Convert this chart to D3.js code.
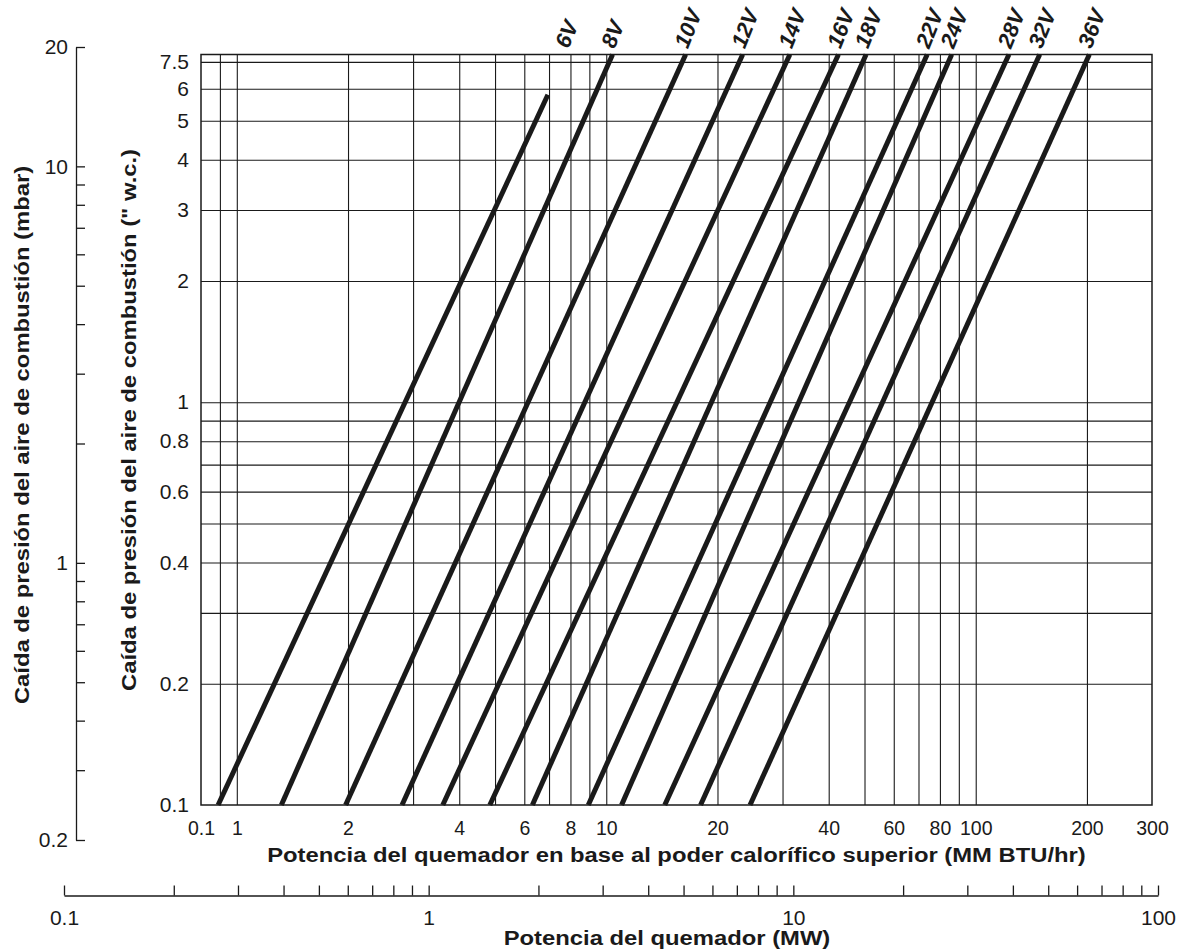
<!DOCTYPE html>
<html>
<head>
<meta charset="utf-8">
<script src="https://cdn.jsdelivr.net/npm/d3@7"></script>
<style>
  body { margin: 0; background: #fff; }
  text { font-family: "Liberation Sans", Arial, Helvetica, sans-serif; fill: #1a1a1a; }
</style>
</head>
<body>
<div id="chart"></div>
<script>
// ---- data ----
// burner capacity (MM BTU/hr) vs pressure drop (" w.c.), one line per size
var lineLabels = ["6V","8V","10V","12V","14V","16V","18V","22V","24V","28V","32V","36V"];
var powerLow   = [0.89, 1.32, 1.97, 2.80, 3.61, 4.84, 6.31, 8.94, 11.0, 14.4, 18.0, 24.5];
var dropLow    = [0.1, 0.1, 0.1, 0.1, 0.1, 0.1, 0.1, 0.1, 0.1, 0.1, 0.1, 0.1];
var powerHigh  = [6.95, 10.4, 16.4, 23.4, 31.4, 42.5, 50.5, 73.9, 86.1, 123, 149, 203];
var dropHigh   = [5.8, 7.3, 7.3, 7.3, 7.3, 7.3, 7.3, 7.3, 7.3, 7.3, 7.3, 7.3];

// bottom axis (MM BTU/hr)
var xTickValues = [0.8, 1, 2, 4, 6, 8, 10, 20, 40, 60, 80, 100, 200, 300];
var xTickLabels = ["0.1","1","2","4","6","8","10","20","40","60","80","100","200","300"];
var xGridValues = [0.9, 1, 2, 3, 4, 5, 6, 7, 8, 9, 10, 20, 30, 40, 50, 60, 70, 80, 90, 100, 200];

// left axis (" w.c.)
var yTickValues = [0.1, 0.2, 0.4, 0.6, 0.8, 1, 2, 3, 4, 5, 6, 7];
var yTickLabels = ["0.1","0.2","0.4","0.6","0.8","1","2","3","4","5","6","7.5"];
var yGridValues = [0.2, 0.3, 0.4, 0.5, 0.6, 0.7, 0.8, 0.9, 1, 2, 3, 4, 5, 6, 7];

// outer axis (mbar)
var mbarMajor = [0.2, 1, 10, 20];
var mbarMinor = [0.3, 0.4, 0.5, 0.6, 0.7, 0.8, 0.9, 2, 3, 4, 5, 6, 7, 8, 9];

// MW axis
var mwMajor = [0.1, 1, 10, 100];
var mwMinor = [0.2,0.3,0.4,0.5,0.6,0.7,0.8,0.9, 2,3,4,5,6,7,8,9, 20,30,40,50,60,70,80,90];

// ---- size ----
var svgWidth = 1192;
var svgHeight = 951;

var plot = { left: 201, right: 1152, top: 54.5, bottom: 805 };

var svg = d3.select("#chart")
    .append("svg")
    .attr("width", svgWidth)
    .attr("height", svgHeight);

// scales
var x = d3.scaleLog().domain([0.8, 300]).range([plot.left, plot.right]);
var y = d3.scaleLog().domain([0.1, 7.3]).range([plot.bottom, plot.top]);
var yMbar = d3.scaleLog().domain([0.2, 20]).range([840, 47]);
var xMW = d3.scaleLog().domain([0.1, 100]).range([64, 1158]);

var ink = "#1a1a1a";

//stretch wide text like the original lettering
function stretch(sel, k) {
    sel.each(function() {
        var w = this.getComputedTextLength();
        d3.select(this)
            .attr("textLength", w * k)
            .attr("lengthAdjust", "spacingAndGlyphs");
    });
}

// ---- grid ----
var xGrid = svg.append("g")
    .attr("transform", `translate(0,${plot.bottom})`)
    .call(d3.axisBottom(x).tickValues(xGridValues).tickFormat("")
        .tickSize(-(plot.bottom - plot.top)).tickSizeOuter(0));
xGrid.select(".domain").remove();
xGrid.selectAll("line").attr("stroke", ink).attr("stroke-width", 1.1);

var yGrid = svg.append("g")
    .attr("transform", `translate(${plot.left},0)`)
    .call(d3.axisLeft(y).tickValues(yGridValues).tickFormat("")
        .tickSize(-(plot.right - plot.left)).tickSizeOuter(0));
yGrid.select(".domain").remove();
yGrid.selectAll("line").attr("stroke", ink).attr("stroke-width", 1.1);

svg.append("rect")
    .attr("x", plot.left)
    .attr("y", plot.top)
    .attr("width", plot.right - plot.left)
    .attr("height", plot.bottom - plot.top)
    .attr("fill", "none")
    .attr("stroke", ink)
    .attr("stroke-width", 1.5);

// ---- tick labels ----
var xAxis = svg.append("g")
    .attr("transform", `translate(0,${plot.bottom})`)
    .call(d3.axisBottom(x).tickValues(xTickValues)
        .tickFormat((d, i) => xTickLabels[i]).tickSize(0).tickPadding(16));
xAxis.select(".domain").remove();
xAxis.selectAll("text")
    .attr("font-size", "19.5px")
    .attr("font-family", "Liberation Sans, Arial, sans-serif")
    .attr("fill", ink);

var yAxis = svg.append("g")
    .attr("transform", `translate(${plot.left},0)`)
    .call(d3.axisLeft(y).tickValues(yTickValues)
        .tickFormat((d, i) => yTickLabels[i]).tickSize(0).tickPadding(12));
yAxis.select(".domain").remove();
yAxis.selectAll("text")
    .attr("font-size", "21px")
    .attr("font-family", "Liberation Sans, Arial, sans-serif")
    .attr("fill", ink);

// ---- mbar axis ----
var mbarAxis = svg.append("g")
    .attr("transform", "translate(76,0)")
    .call(d3.axisLeft(yMbar).tickValues(mbarMajor.concat(mbarMinor))
        .tickFormat(d => mbarMajor.indexOf(d) >= 0 ? d3.format("~g")(d) : "")
        .tickSize(-9).tickSizeOuter(0).tickPadding(8));
mbarAxis.select(".domain").attr("stroke", ink).attr("stroke-width", 1.3);
mbarAxis.selectAll("line").attr("stroke", ink).attr("stroke-width", 1.3);
mbarAxis.selectAll("text")
    .attr("font-size", "21px")
    .attr("font-family", "Liberation Sans, Arial, sans-serif")
    .attr("fill", ink);

// ---- MW axis ----
var mwAxis = svg.append("g")
    .attr("transform", "translate(0,895.5)")
    .call(d3.axisBottom(xMW).tickValues(mwMajor.concat(mwMinor))
        .tickFormat(d => mwMajor.indexOf(d) >= 0 ? d3.format("~g")(d) : "")
        .tickSize(-10).tickSizeOuter(0).tickPadding(15));
mwAxis.select(".domain").attr("stroke", ink).attr("stroke-width", 1.3);
mwAxis.selectAll("line").attr("stroke", ink).attr("stroke-width", 1.3);
mwAxis.selectAll("text")
    .attr("font-size", "21px")
    .attr("font-family", "Liberation Sans, Arial, sans-serif")
    .attr("fill", ink);

// ---- capacity lines ----
var lines = lineLabels.map(function(name, i) {
    return {
        name: name,
        pts: [[powerLow[i], dropLow[i]], [powerHigh[i], dropHigh[i]]]
    };
});

var lineGen = d3.line()
    .x(d => x(d[0]))
    .y(d => y(d[1]));

svg.append("g")
    .selectAll("path")
    .data(lines)
    .enter()
    .append("path")
    .attr("d", d => lineGen(d.pts))
    .attr("fill", "none")
    .attr("stroke", ink)
    .attr("stroke-width", 5);

//label sits where the line would meet the top of the grid
function topPower(d) {
    var a = d.pts[0], b = d.pts[1];
    var top = y.domain()[1];
    var t = Math.log(top / a[1]) / Math.log(b[1] / a[1]);
    return Math.exp(Math.log(a[0]) + t * Math.log(b[0] / a[0]));
}

svg.append("g")
    .selectAll("text")
    .data(lines)
    .enter()
    .append("text")
    .attr("transform", d => `translate(${x(topPower(d)) + 2},${plot.top - 5}) rotate(-68)`)
    .attr("font-size", "22px")
    .attr("font-weight", "bold")
    .attr("font-style", "italic")
    .text(d => d.name);

// ---- axis titles ----
var xTitle = svg.append("text")
    .attr("x", (plot.left + plot.right) / 2)
    .attr("y", 862)
    .attr("text-anchor", "middle")
    .attr("font-size", "20px")
    .attr("font-weight", "bold")
    .text("Potencia del quemador en base al poder calorífico superior (MM BTU/hr)");
stretch(xTitle, 1.19);

var mwTitle = svg.append("text")
    .attr("x", 667)
    .attr("y", 945)
    .attr("text-anchor", "middle")
    .attr("font-size", "20px")
    .attr("font-weight", "bold")
    .text("Potencia del quemador (MW)");
stretch(mwTitle, 1.19);

var mbarTitle = svg.append("text")
    .attr("transform", "translate(29,435) rotate(-90)")
    .attr("text-anchor", "middle")
    .attr("font-size", "20px")
    .attr("font-weight", "bold")
    .text("Caída de presión del aire de combustión (mbar)");
stretch(mbarTitle, 1.19);

var wcTitle = svg.append("text")
    .attr("transform", "translate(136,420) rotate(-90)")
    .attr("text-anchor", "middle")
    .attr("font-size", "20px")
    .attr("font-weight", "bold")
    .text("Caída de presión del aire de combustión (\" w.c.)");
stretch(wcTitle, 1.19);
</script>
</body>
</html>
